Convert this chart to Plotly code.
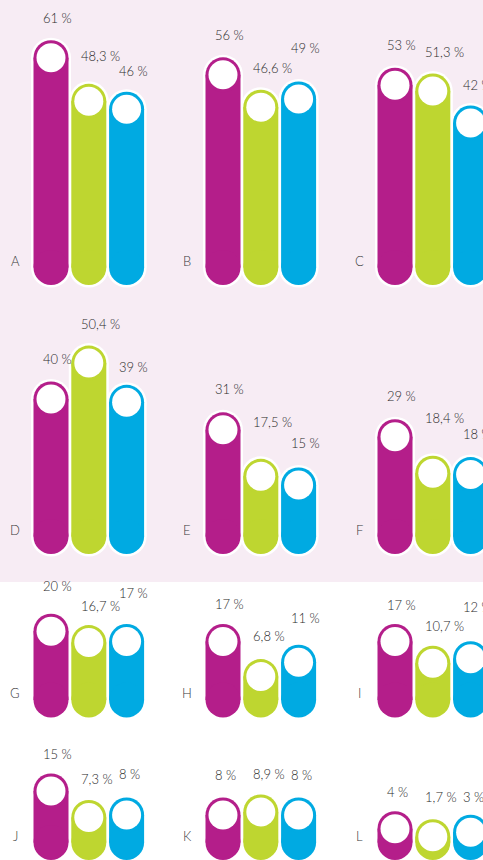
import plotly.graph_objects as go

# ---- data ----
panels = ["A", "B", "C", "D", "E", "F", "G", "H", "I", "J", "K", "L"]
series_magenta = [61, 56, 53, 40, 31, 29, 20, 17, 17, 15, 8, 4]
series_green = [48.3, 46.6, 51.3, 50.4, 17.5, 18.4, 16.7, 6.8, 10.7, 7.3, 8.9, 1.7]
series_blue = [46, 49, 42, 39, 15, 18, 17, 11, 12, 8, 8, 3]
value_labels_magenta = ["61 %", "56 %", "53 %", "40 %", "31 %", "29 %",
                        "20 %", "17 %", "17 %", "15 %", "8 %", "4 %"]
value_labels_green = ["48,3 %", "46,6 %", "51,3 %", "50,4 %", "17,5 %", "18,4 %",
                      "16,7 %", "6,8 %", "10,7 %", "7,3 %", "8,9 %", "1,7 %"]
value_labels_blue = ["46 %", "49 %", "42 %", "39 %", "15 %", "18 %",
                     "17 %", "11 %", "12 %", "8 %", "8 %", "3 %"]

# ---- styling (label nudges in px above pill top) ----
label_lift = [
    [22, 28, 21], [22, 22, 33], [23, 22, 21],
    [22, 22, 18], [23, 37, 24], [23, 38, 23],
    [28, 19, 31], [20, 23, 27], [19, 20, 34],
    [19, 21, 23], [22, 20, 22], [19, 22, 18],
]
colors = ["#b41e8a", "#bed630", "#00aae2"]
PINK = "#f7ecf4"
TEXT = "#2b2b2b"
FONT = "Lato, 'Open Sans', sans-serif"
W, H = 483, 860
PITCH = 37.8          # px between bars
COL_X0 = [51, 223, 395]  # px centre of first bar per column
ROW_DOM = [(0, 298), (298, 583), (583, 730), (730, 860)]
ROW_ZERO = [267.5, 536.5, 700, 842.5]
SCALE = 3.44          # px per percentage point
PILL = 35
OUTLINE = 40
INNER = 29
R = PILL / 2

series = [series_magenta, series_green, series_blue]
vlabels = [value_labels_magenta, value_labels_green, value_labels_blue]

fig = go.Figure()
layout = dict(
    width=W, height=H, margin=dict(l=0, r=0, t=0, b=0, pad=0),
    paper_bgcolor="white", plot_bgcolor="rgba(0,0,0,0)",
    showlegend=False,
    font=dict(family=FONT, color=TEXT, size=13, weight=300),
    shapes=[dict(type="rect", xref="paper", yref="paper", x0=0, x1=1,
                 y0=1 - 582 / H, y1=1, fillcolor=PINK, line_width=0, layer="below")],
    annotations=[],
)

for k, name in enumerate(panels):
    r, c = divmod(k, 3)
    ax = "" if k == 0 else str(k + 1)
    c0 = COL_X0[c]
    left = c0 - 45
    right = min(c0 + 2 * PITCH + 45, W)
    dtop, dbot = ROW_DOM[r]
    zero = ROW_ZERO[r]
    layout["xaxis" + ax] = dict(
        domain=[left / W, right / W],
        range=[(left - c0) / PITCH, (right - c0) / PITCH],
        visible=False, fixedrange=True, anchor="y" + ax,
    )
    layout["yaxis" + ax] = dict(
        domain=[1 - dbot / H, 1 - dtop / H],
        range=[(zero - dbot) / SCALE, (zero - dtop) / SCALE],
        visible=False, fixedrange=True, anchor="x" + ax,
    )
    vals = [s[k] for s in series]
    # white outline layer
    xs, ys = [], []
    for i, v in enumerate(vals):
        xs += [i, i, None]
        ys += [0, v, None]
    fig.add_trace(go.Scatter(
        x=xs, y=ys, mode="lines+markers", xaxis="x" + ax, yaxis="y" + ax,
        line=dict(color="white", width=OUTLINE),
        marker=dict(color="white", size=OUTLINE, line_width=0),
        hoverinfo="skip", connectgaps=False,
    ))
    # coloured pills
    for i, v in enumerate(vals):
        fig.add_trace(go.Scatter(
            x=[i, i], y=[0, v], mode="lines+markers", xaxis="x" + ax, yaxis="y" + ax,
            line=dict(color=colors[i], width=PILL),
            marker=dict(color=colors[i], size=PILL, line_width=0),
            hoverinfo="skip",
        ))
    # inner white circles
    fig.add_trace(go.Scatter(
        x=[0, 1, 2], y=vals, mode="markers", xaxis="x" + ax, yaxis="y" + ax,
        marker=dict(color="white", size=INNER, line_width=0),
        hoverinfo="skip",
    ))
    # value labels
    for i, v in enumerate(vals):
        layout["annotations"].append(dict(
            x=i, y=v, xref="x" + ax, yref="y" + ax, text=vlabels[i][k],
            showarrow=False, xanchor="left", yanchor="middle",
            xshift=-10, yshift=R + label_lift[k][i],
            font=dict(family=FONT, size=13, color=TEXT, weight=300),
        ))
    # panel letter
    layout["annotations"].append(dict(
        x=-0.95, y=2.0, xref="x" + ax, yref="y" + ax, text=name,
        showarrow=False, xanchor="center", yanchor="middle",
        font=dict(family=FONT, size=13, color="#3a3a3a", weight=300),
    ))

fig.update_layout(**layout)
fig.write_html("out.html", config={"displayModeBar": False},
               post_script="document.body.style.margin='0';document.body.style.overflow='hidden';")
